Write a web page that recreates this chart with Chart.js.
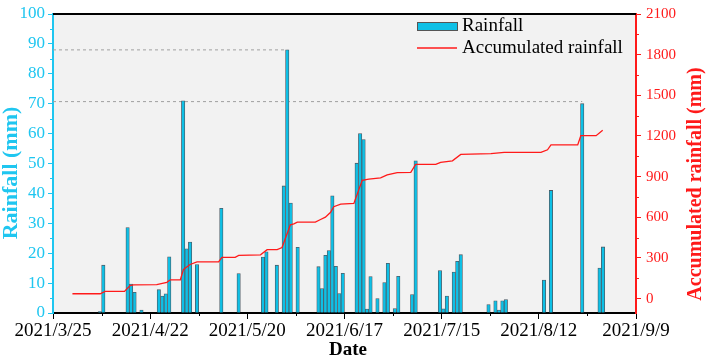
<!DOCTYPE html>
<html>
<head>
<meta charset="utf-8">
<script src="https://cdn.jsdelivr.net/npm/chart.js@4.4.1/dist/chart.umd.min.js"></script>
<style>
  html, body { margin: 0; padding: 0; background: #fff; }
  #wrap { width: 706px; height: 359px; }
</style>
</head>
<body>
<div id="wrap"><canvas id="myChart"></canvas></div>
<script>
const startDate = '2021-03-25';
const tickDays = [0, 28, 56, 84, 112, 140, 168];
const tickLabels = ['2021/3/25', '2021/4/22', '2021/5/20', '2021/6/17', '2021/7/15', '2021/8/12', '2021/9/9'];
const minorDays = [14, 42, 70, 98, 126, 154];
const rainTicks = [0, 10, 20, 30, 40, 50, 60, 70, 80, 90, 100];
const rainMinor = [5, 15, 25, 35, 45, 55, 65, 75, 85, 95];
const accTicks = [0, 300, 600, 900, 1200, 1500, 1800, 2100];
const accMinor = [150, 450, 750, 1050, 1350, 1650, 1950];

const rainDates = [
    '2021-04-07', '2021-04-08', '2021-04-15', '2021-04-16', '2021-04-17', '2021-04-19',
    '2021-04-24', '2021-04-25', '2021-04-26', '2021-04-27', '2021-05-01', '2021-05-02',
    '2021-05-03', '2021-05-05', '2021-05-12', '2021-05-17', '2021-05-24', '2021-05-25',
    '2021-05-28', '2021-05-30', '2021-05-31', '2021-06-01', '2021-06-03', '2021-06-09',
    '2021-06-10', '2021-06-11', '2021-06-12', '2021-06-13', '2021-06-14', '2021-06-15',
    '2021-06-16', '2021-06-20', '2021-06-21', '2021-06-22', '2021-06-23', '2021-06-24',
    '2021-06-26', '2021-06-28', '2021-06-29', '2021-07-01', '2021-07-02', '2021-07-06',
    '2021-07-07', '2021-07-14', '2021-07-15', '2021-07-16', '2021-07-18', '2021-07-19',
    '2021-07-20', '2021-07-28', '2021-07-30', '2021-07-31', '2021-08-01', '2021-08-02',
    '2021-08-13', '2021-08-15', '2021-08-24', '2021-08-29', '2021-08-30'
];
const rainValues = [
    0.5, 16, 28.6, 9.7, 6.9, 1.0,
    7.8, 5.7, 6.4, 18.8, 71, 21.5,
    23.7, 16.2, 35, 13.2, 18.7, 20.5,
    16, 42.5, 88, 36.8, 22, 15.5,
    8.2, 19.3, 20.9, 39.2, 15.6, 6.5,
    13.3, 50.1, 60, 58, 1.3, 12.2,
    4.8, 10.2, 16.6, 1.5, 12.3, 6.2,
    50.9, 14.2, 1.4, 5.7, 13.7, 17.3,
    19.5, 2.8, 4.1, 1.0, 4.1, 4.5,
    11, 41, 70, 15, 22.1
];

// accumulated rainfall (days after 2021/3/25)
const accDays = [
    5.6, 13.6, 15.0, 20.6, 22.2, 23.2, 29.9, 32.8, 33.8, 36.7, 37.6, 39.5, 41.5, 47.7,
    48.7, 52.5, 53.5, 59.8, 61.7, 64.6, 66.0, 68.4, 69.4, 70.4, 75.6, 77.1, 78.5, 80.0,
    80.9, 82.9, 86.7, 89.1, 91.0, 94.4, 96.3, 99.2, 103.1, 104.5, 110.3, 111.7, 115.1,
    117.5, 126.2, 130.0, 140.6, 142.5, 143.5, 151.2, 152.1, 156.5, 158.4
];
const accValues = [
    36, 36, 53, 53, 96, 101, 103, 120, 139, 139, 216, 252, 271, 271,
    305, 305, 319, 323, 361, 361, 377, 545, 552, 565, 565, 584, 601, 637,
    678, 697, 702, 873, 882, 891, 913, 930, 932, 990, 990, 1005, 1017,
    1064, 1070, 1079, 1079, 1098, 1134, 1134, 1202, 1202, 1243
];

// dashed guide lines
const refLevels = [88, 70.7];
const refEndDates = ['2021-05-31', '2021-08-24'];

const serif = "'Liberation Serif', 'Times New Roman', serif";
const cyan = '#1fc6f0';
const red = '#ff1a1a';

const dayOf = s => (Date.parse(s) - Date.parse(startDate)) / 86400000 + 0.5;

const bars = rainDates.map((d, i) => ({ x: dayOf(d), y: rainValues[i] }));
const accLine = accDays.map((d, i) => ({ x: d, y: accValues[i] }));
const refSets = refLevels.map((v, i) => ({
    type: 'line',
    yAxisID: 'yL',
    data: [{ x: 0, y: v }, { x: dayOf(refEndDates[i]), y: v }],
    borderColor: '#a0a0a0',
    borderWidth: 1,
    borderDash: [3, 3],
    pointRadius: 0,
    order: 3
}));

const decor = {
    id: 'decor',
    beforeDraw(chart) {
        const { ctx, chartArea: a } = chart;
        ctx.save();
        ctx.fillStyle = '#f2f2f2';
        ctx.fillRect(a.left, a.top, a.right - a.left, a.bottom - a.top);
        ctx.restore();
    },
    afterDraw(chart) {
        const { ctx, chartArea: a, scales: { x, yL, yR } } = chart;
        ctx.save();
        // top frame
        ctx.strokeStyle = '#000';
        ctx.lineWidth = 2;
        ctx.beginPath();
        ctx.moveTo(a.left, a.top);
        ctx.lineTo(a.right, a.top);
        ctx.stroke();

        // minor ticks
        ctx.lineWidth = 1;
        minorDays.forEach(d => {
            const px = Math.round(x.getPixelForValue(d)) + 0.5;
            ctx.beginPath();
            ctx.moveTo(px, a.bottom);
            ctx.lineTo(px, a.bottom + 3);
            ctx.stroke();
        });
        ctx.strokeStyle = cyan;
        rainMinor.forEach(v => {
            const py = Math.round(yL.getPixelForValue(v)) + 0.5;
            ctx.beginPath();
            ctx.moveTo(a.left, py);
            ctx.lineTo(a.left - 3, py);
            ctx.stroke();
        });
        ctx.strokeStyle = red;
        accMinor.forEach(v => {
            const py = Math.round(yR.getPixelForValue(v)) + 0.5;
            ctx.beginPath();
            ctx.moveTo(a.right, py);
            ctx.lineTo(a.right + 3, py);
            ctx.stroke();
        });

        // axis titles
        ctx.textAlign = 'center';
        ctx.textBaseline = 'middle';
        ctx.font = 'bold 19px ' + serif;
        ctx.fillStyle = '#000';
        ctx.fillText('Date', 348, 350);

        ctx.save();
        ctx.translate(11, 173);
        ctx.rotate(-Math.PI / 2);
        ctx.font = 'bold 22px ' + serif;
        ctx.fillStyle = cyan;
        ctx.fillText('Rainfall (mm)', 0, 0);
        ctx.restore();

        ctx.save();
        ctx.translate(696, 184);
        ctx.rotate(-Math.PI / 2);
        ctx.font = 'bold 20px ' + serif;
        ctx.fillStyle = red;
        ctx.fillText('Accumulated rainfall (mm)', 0, 0);
        ctx.restore();

        // legend
        const lx = a.right - 219;
        ctx.fillStyle = '#0ec0e6';
        ctx.fillRect(lx, 22, 40, 8);
        ctx.strokeStyle = '#555';
        ctx.lineWidth = 1;
        ctx.strokeRect(lx + 0.5, 22.5, 40, 8);
        ctx.strokeStyle = red;
        ctx.lineWidth = 1.3;
        ctx.beginPath();
        ctx.moveTo(lx, 48);
        ctx.lineTo(lx + 40, 48);
        ctx.stroke();
        ctx.font = '19px ' + serif;
        ctx.fillStyle = '#000';
        ctx.textAlign = 'left';
        ctx.fillText('Rainfall', lx + 45, 26);
        ctx.fillText('Accumulated rainfall', lx + 45, 48);
        ctx.restore();
    }
};

new Chart(document.getElementById('myChart'), {
    data: {
        datasets: [
            {
                type: 'bar',
                label: 'Rainfall',
                yAxisID: 'yL',
                data: bars,
                backgroundColor: '#0ec0e6',
                borderColor: '#4d5a64',
                borderWidth: 0.8,
                barThickness: 3.4,
                order: 2
            },
            {
                type: 'line',
                label: 'Accumulated rainfall',
                yAxisID: 'yR',
                data: accLine,
                borderColor: red,
                borderWidth: 1.3,
                pointRadius: 0,
                tension: 0,
                order: 1
            },
            ...refSets
        ]
    },
    options: {
        responsive: true,
        maintainAspectRatio: false,
        animation: false,
        layout: { padding: { top: 7, left: 0, right: 0, bottom: 0 } },
        plugins: { legend: { display: false }, tooltip: { enabled: false } },
        scales: {
            x: {
                type: 'linear',
                offset: false,
                min: 0,
                max: 168,
                afterBuildTicks: s => { s.ticks = tickDays.map(v => ({ value: v })); },
                afterFit: s => { s.height = 46; },
                ticks: {
                    callback: (v, i) => tickLabels[i],
                    color: '#000',
                    font: { family: serif, size: 19 },
                    padding: 1,
                    maxRotation: 0,
                    autoSkip: false
                },
                grid: { offset: false, drawOnChartArea: false, tickLength: 6, tickColor: '#000', tickWidth: 1 },
                border: { color: '#000', width: 2 }
            },
            yL: {
                position: 'left',
                min: 0,
                max: 100,
                afterBuildTicks: s => { s.ticks = rainTicks.map(v => ({ value: v })); },
                afterFit: s => { s.width = 53; },
                ticks: { callback: v => String(v), color: cyan, font: { family: serif, size: 17 }, padding: 3 },
                grid: { drawOnChartArea: false, tickLength: 5, tickColor: cyan, tickWidth: 1 },
                border: { color: cyan, width: 2 }
            },
            yR: {
                position: 'right',
                min: -106,
                max: 2100,
                afterBuildTicks: s => { s.ticks = accTicks.map(v => ({ value: v })); },
                afterFit: s => { s.width = 70; },
                ticks: { callback: v => String(v), color: red, font: { family: serif, size: 15 }, padding: 5 },
                grid: { drawOnChartArea: false, tickLength: 5, tickColor: red, tickWidth: 1 },
                border: { color: red, width: 2 }
            }
        }
    },
    plugins: [decor]
});
</script>
</body>
</html>
